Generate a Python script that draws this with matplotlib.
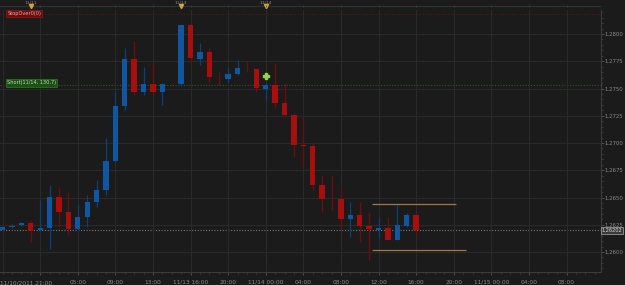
import matplotlib.pyplot as plt
import numpy as np

# hourly EUR/USD style candles (index 0 = 11/10/2011 21:00)
opens  = [1.26202, 1.26230, 1.26248, 1.26266, 1.26202, 1.26220, 1.26505, 1.26367, 1.26211, 1.26321,
          1.26459, 1.26569, 1.26835, 1.27339, 1.27771, 1.27468, 1.27541, 1.27468, 1.27545, 1.27541,
          1.28083, 1.27771, 1.27835, 1.27610, 1.27587, 1.27633, 1.27692, 1.27679, 1.27495, 1.27532,
          1.27367, 1.27257, 1.26982, 1.26973, 1.26615, 1.26490, 1.26486, 1.26303, 1.26340, 1.26239,
          1.26202, 1.26220, 1.26110, 1.26239, 1.26340]
closes = [1.26229, 1.26239, 1.26266, 1.26193, 1.26220, 1.26505, 1.26367, 1.26211, 1.26321, 1.26459,
          1.26569, 1.26835, 1.27339, 1.27771, 1.27468, 1.27541, 1.27468, 1.27541, 1.27537, 1.28083,
          1.27780, 1.27835, 1.27606, 1.27602, 1.27633, 1.27688, 1.27684, 1.27505, 1.27532, 1.27367,
          1.27257, 1.26982, 1.26973, 1.26615, 1.26486, 1.26482, 1.26303, 1.26340, 1.26239, 1.26211,
          1.26220, 1.26110, 1.26248, 1.26340, 1.26202]
highs  = [1.26248, 1.26257, 1.26275, 1.26284, 1.26477, 1.26615, 1.26596, 1.26550, 1.26431, 1.26523,
          1.26661, 1.27046, 1.27468, 1.27872, 1.27936, 1.27697, 1.27734, 1.27550, 1.27555, 1.28092,
          1.28092, 1.27917, 1.27872, 1.27651, 1.27688, 1.27761, 1.27743, 1.27679, 1.27560, 1.27734,
          1.27550, 1.27275, 1.27239, 1.27000, 1.26706, 1.26706, 1.26587, 1.26459, 1.26459, 1.26358,
          1.26321, 1.26321, 1.26431, 1.26358, 1.26358]
lows   = [1.26193, 1.26220, 1.26239, 1.26092, 1.26193, 1.26028, 1.26229, 1.26156, 1.26202, 1.26229,
          1.26413, 1.26523, 1.26826, 1.27303, 1.27440, 1.27440, 1.27459, 1.27349, 1.27525, 1.27523,
          1.27761, 1.27716, 1.27560, 1.27532, 1.27560, 1.27624, 1.27651, 1.27468, 1.27394, 1.27321,
          1.27239, 1.26872, 1.26798, 1.26569, 1.26367, 1.26385, 1.26202, 1.26138, 1.26092, 1.25927,
          1.26128, 1.26110, 1.26110, 1.26229, 1.26156]

tick_idx = [4, 8, 12, 16, 20, 24, 28, 32, 36, 40, 44, 48, 52, 56, 60]
tick_lbl = ['', '05:00', '09:00', '13:00', '11/13 16:00', '20:00', '11/14 00:00', '04:00',
            '08:00', '12:00', '16:00', '20:00', '11/15 00:00', '04:00', '08:00']
first_lbl = '11/10/2011 21:00'

day_idx = [3, 19, 28]
day_lbl = ['11/11', '11/13', '11/14']

last_price = 1.26202
stop_level = 1.28183
short_level = 1.27532
upper_level, upper_span = 1.26440, (39.3, 48.2)
lower_level, lower_span = 1.26015, (39.3, 49.3)
marker_pt = (28, 1.27615)

bg = '#1b1b1b'
grid = '#2b2b2b'
txt = '#8a8a8a'
up_c, up_w = '#0f56a3', '#0d3f78'
dn_c, dn_w = '#a80e0e', '#6e0d0d'

W, H = 625, 285
fig = plt.figure(figsize=(W / 100, H / 100), dpi=100, facecolor=bg)
ax = fig.add_axes([0, 13 / H, 601 / W, 262 / H], facecolor=bg)

x = np.arange(len(opens))
o, c = np.array(opens), np.array(closes)
up = c >= o
body_lo = np.minimum(o, c)
body_h = np.maximum(np.abs(c - o), 0.00008)
ax.vlines(x[up], np.array(lows)[up], np.array(highs)[up], color=up_w, lw=0.9, zorder=2)
ax.vlines(x[~up], np.array(lows)[~up], np.array(highs)[~up], color=dn_w, lw=0.9, zorder=2)
ax.bar(x[up], body_h[up], bottom=body_lo[up], width=0.56, color=up_c, zorder=3)
ax.bar(x[~up], body_h[~up], bottom=body_lo[~up], width=0.56, color=dn_c, zorder=3)

ax.set_xlim(-0.27, 63.67)
ax.set_ylim(1.25817, 1.28220)

# levels
ax.axhline(last_price, color='#777777', lw=0.8, ls=(0, (1, 1.5)), zorder=1)
ax.axhline(stop_level, color='#5a1515', lw=0.8, ls=(0, (1, 1.5)), zorder=1)
ax.axhline(short_level, color='#2c5a22', lw=0.8, ls=(0, (1, 1.5)), zorder=1)
ax.hlines(upper_level, *upper_span, color='#9c7a48', lw=0.9, zorder=4)
ax.hlines(lower_level, *lower_span, color='#9c7a48', lw=0.9, zorder=4)
ax.plot(*marker_pt, marker='P', ms=4, color='#8fd64a', zorder=5)

# grid + ticks
yt = np.arange(1.2600, 1.28001, 0.0025)
ax.set_yticks(yt)
ax.set_yticklabels([f'{v:.4f}' for v in yt])
ax.set_yticks(np.arange(1.2585, 1.2822, 0.0005), minor=True)
ax.set_xticks(tick_idx)
ax.set_xticklabels(tick_lbl)
ax.set_xticks(np.arange(0, 64, 1), minor=True)
ax.yaxis.tick_right()
ax.tick_params(axis='y', which='major', colors='#555555', labelcolor=txt, labelsize=3.9,
               length=2, width=0.6, pad=0.8)
ax.tick_params(axis='y', which='minor', colors='#444444', length=1.3, width=0.5)
ax.tick_params(axis='x', which='major', colors='#555555', labelcolor=txt, labelsize=4.2,
               length=2.5, width=0.6, pad=3)
ax.tick_params(axis='x', which='minor', colors='#444444', length=1.5, width=0.5)
ax.grid(True, which='major', color=grid, lw=0.7)
ax.axvline(0, color=grid, lw=0.7)
for s in ['left', 'top']:
    ax.spines[s].set_visible(False)
for s in ['right', 'bottom']:
    ax.spines[s].set_color('#3c3c3c')
    ax.spines[s].set_linewidth(0.8)
ax.text(0, -0.033, first_lbl, transform=ax.transAxes, color=txt, fontsize=4.2,
        ha='left', va='top')

# labels in the chart
ax.text(0.5, stop_level + 0.00005, 'StopOver0(0)', color='#e0b0b0', fontsize=3.6,
        va='center', ha='left',
        bbox=dict(boxstyle='square,pad=0.25', fc='#6e0c0c', ec='#8a1a1a', lw=0.5))
ax.text(0.5, short_level + 0.0002, 'Short(11/14, 130.7)', color='#b8e0b0', fontsize=3.6,
        va='center', ha='left',
        bbox=dict(boxstyle='square,pad=0.25', fc='#1d4f17', ec='#2f7a26', lw=0.5))
fig.text(612 / W, 1 - 230 / H, f'{last_price:.5f}', color='#dddddd', fontsize=3.6,
         ha='center', va='center',
         bbox=dict(boxstyle='square,pad=0.2', fc='#3a3a3a', ec='#aaaaaa', lw=0.5))

# top day strip
top = fig.add_axes([0, 1 - 10 / H, 601 / W, 10 / H], facecolor=bg)
top.set_xlim(ax.get_xlim())
top.set_ylim(0, 10)
top.axhline(4, color='#333333', lw=0.8)
top.plot(day_idx, [4.5] * len(day_idx), 'v', color='#d4a53a', ms=3)
for d, l in zip(day_idx, day_lbl):
    top.text(d, 9, l, color=txt, fontsize=3.2, ha='center', va='top')
top.vlines(tick_idx, 3.2, 4.8, color='#444444', lw=0.5)
top.axis('off')

fig.savefig('out.png', dpi=100, facecolor=bg)
